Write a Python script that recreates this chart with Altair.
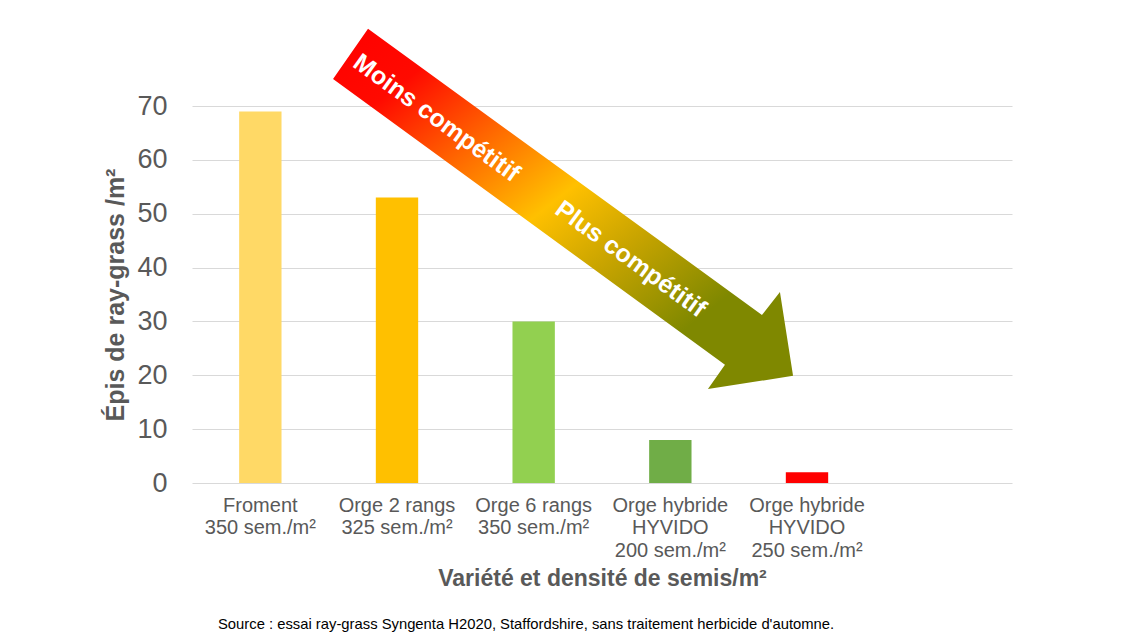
import altair as alt
import pandas as pd

# Données (la 6e case est vide)
varietes = [
    "Froment|350 sem./m²",
    "Orge 2 rangs|325 sem./m²",
    "Orge 6 rangs|350 sem./m²",
    "Orge hybride|HYVIDO|200 sem./m²",
    "Orge hybride|HYVIDO|250 sem./m²",
    "",
]
epis = [69, 53, 30, 8, 2, None]
couleurs = ["#FFD966", "#FFC000", "#92D050", "#70AD47", "#FF0000", "#FFFFFF"]

# Flèche et ses textes (x en unités de case 0..6, y en épis/m²)
fleche_x = [2.715]
fleche_y = [50.9]
textes = ["Moins compétitif", "Plus compétitif"]
textes_x = [1.79, 3.21]
textes_y = [67.8, 41.6]

source = "Source : essai ray-grass Syngenta H2020, Staffordshire, sans traitement herbicide d'automne."

df = pd.DataFrame({"variete": varietes, "epis": epis, "couleur": couleurs})
df_fleche = pd.DataFrame({"x": fleche_x, "y": fleche_y})
df_textes = pd.DataFrame({"texte": textes, "x": textes_x, "y": textes_y})

GRIS = "#595959"
FLECHE = ("M -0.848 -0.783 L 0.865 0.461 L 0.943 0.361 L 1 0.726 "
          "L 0.630 0.783 L 0.704 0.678 L -1 -0.565 Z")

y_echelle = alt.Scale(domain=[0, 70], nice=False)

barres = alt.Chart(df).mark_bar().encode(
    x=alt.X("variete:N", sort=varietes,
            scale=alt.Scale(domain=varietes, paddingInner=0.69, paddingOuter=0.345),
            axis=alt.Axis(title="Variété et densité de semis/m²", labelAngle=0,
                          labelExpr="split(datum.value, '|')", labelLineHeight=22.5,
                          labelFontSize=20, labelColor=GRIS, labelPadding=12,
                          ticks=False, domain=False, grid=False,
                          titleFontSize=23, titleColor=GRIS, titleFontWeight="bold",
                          titlePadding=7)),
    y=alt.Y("epis:Q", scale=y_echelle,
            axis=alt.Axis(title="Épis de ray-grass /m²", values=list(range(0, 80, 10)),
                          labelFontSize=27, labelColor=GRIS, labelPadding=25,
                          ticks=False, tickSize=0, domain=False,
                          gridColor="#D9D9D9", gridWidth=1,
                          titleFontSize=25, titleColor=GRIS, titleFontWeight="bold",
                          titlePadding=8)),
    color=alt.Color("couleur:N", scale=None),
)

degrade = alt.Gradient(
    gradient="linear",
    stops=[
        alt.GradientStop(color="#FF0000", offset=0.0),
        alt.GradientStop(color="#FF0A00", offset=0.15),
        alt.GradientStop(color="#FF6A00", offset=0.32),
        alt.GradientStop(color="#FFC000", offset=0.48),
        alt.GradientStop(color="#C8A400", offset=0.62),
        alt.GradientStop(color="#7F8800", offset=0.8),
        alt.GradientStop(color="#7F8800", offset=1.0),
    ],
    x1=0, y1=0, x2=1, y2=1,
)

x_annot = alt.X("x:Q", scale=alt.Scale(domain=[0, 6], nice=False), axis=None)
y_annot = alt.Y("y:Q", scale=y_echelle, axis=None)

fleche = alt.Chart(df_fleche).mark_point(
    shape=FLECHE, size=211600, filled=True, fill=degrade, opacity=1, strokeWidth=0
).encode(x=x_annot, y=y_annot)

etiquettes = alt.Chart(df_textes).mark_text(
    angle=36, fontSize=25, fontWeight="bold", color="white",
    align="center", baseline="middle"
).encode(x=x_annot, y=y_annot, text="texte:N")

chart = alt.layer(barres, fleche, etiquettes).resolve_scale(
    x="independent"
).resolve_axis(
    x="independent", y="independent"
).properties(
    width=820,
    height=377,
    autosize=alt.AutoSizeParams(type="none"),
    padding={"left": 184, "top": 98, "right": 112, "bottom": 152},
    title=alt.TitleParams(source, orient="bottom", anchor="start", frame="group",
                          fontSize=14.8, fontWeight="normal", color="#000000",
                          dx=26, offset=27),
).configure(
    font="Liberation Sans"
).configure_view(
    stroke=None
)

chart.save("out.html", embed_options={"renderer": "svg", "actions": False})
